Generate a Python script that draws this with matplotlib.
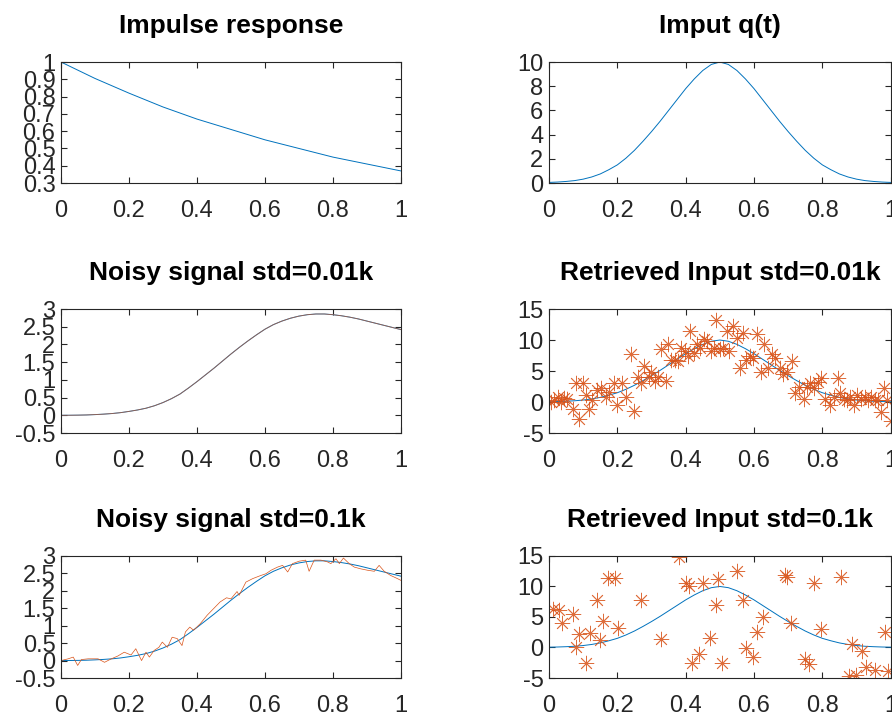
import numpy as np
import matplotlib
matplotlib.use("Agg")
import matplotlib.pyplot as plt

plt.rcParams['font.family'] = ['Liberation Sans', 'DejaVu Sans']

BLUE = (0.0, 0.447, 0.741)
ORANGE = (0.85, 0.325, 0.098)
AXC = (0.15, 0.15, 0.15)

# impulse response h(t)
t_h = [0, 0.1, 0.2, 0.3, 0.4, 0.5, 0.6, 0.7, 0.8, 0.9, 1.0]
h = [1.0, 0.905, 0.82, 0.74, 0.67, 0.61, 0.55, 0.5, 0.45, 0.41, 0.37]

# input q(t) and clean output signal, step 0.025
t_q = [0, 0.025, 0.05, 0.075, 0.1, 0.125, 0.15, 0.175, 0.2, 0.225, 0.25,
       0.275, 0.3, 0.325, 0.35, 0.375, 0.4, 0.425, 0.45, 0.475, 0.5,
       0.525, 0.55, 0.575, 0.6, 0.625, 0.65, 0.675, 0.7, 0.725, 0.75,
       0.775, 0.8, 0.825, 0.85, 0.875, 0.9, 0.925, 0.95, 0.975, 1.0]
q = [0.05, 0.08, 0.13, 0.2, 0.32, 0.5, 0.75, 1.1, 1.5, 2.05, 2.7,
     3.45, 4.25, 5.1, 6.0, 6.9, 7.8, 8.6, 9.3, 9.8, 10.0,
     9.8, 9.3, 8.6, 7.8, 6.9, 6.0, 5.1, 4.25, 3.45, 2.7,
     2.05, 1.5, 1.1, 0.75, 0.5, 0.32, 0.2, 0.13, 0.08, 0.05]
sig = [0.0, 0.002, 0.005, 0.01, 0.02, 0.033, 0.05, 0.075, 0.11, 0.15, 0.2,
       0.27, 0.36, 0.47, 0.6, 0.77, 0.95, 1.14, 1.33, 1.53, 1.73,
       1.92, 2.1, 2.27, 2.43, 2.56, 2.66, 2.74, 2.8, 2.84, 2.86,
       2.86, 2.84, 2.81, 2.77, 2.72, 2.66, 2.6, 2.54, 2.48, 2.42]

# noisy signal, std = 0.1k
t_n2 = [0, 0.021, 0.036, 0.049, 0.06, 0.08, 0.109, 0.128, 0.148, 0.167, 0.186,
        0.206, 0.22, 0.237, 0.25, 0.26, 0.274, 0.288, 0.298, 0.313, 0.327,
        0.342, 0.356, 0.366, 0.379, 0.39, 0.41, 0.43, 0.449, 0.468, 0.487,
        0.50, 0.518, 0.524, 0.544, 0.564, 0.588, 0.603, 0.618, 0.637, 0.652,
        0.667, 0.681, 0.701, 0.72, 0.73, 0.745, 0.765, 0.784, 0.794, 0.809,
        0.819, 0.831, 0.848, 0.863, 0.882, 0.902, 0.922, 0.936, 0.951, 0.97,
        0.99, 1.0]
n2 = [0.0, 0.05, 0.10, -0.14, 0.03, 0.05, 0.05, -0.05, 0.05, 0.13, 0.24,
      0.16, 0.34, 0.0, 0.24, 0.10, 0.29, 0.38, 0.53, 0.38, 0.67,
      0.63, 0.43, 0.82, 0.96, 0.87, 1.06, 1.30, 1.49, 1.68, 1.80,
      1.77, 1.98, 1.87, 2.25, 2.35, 2.44, 2.49, 2.59, 2.68, 2.73,
      2.54, 2.78, 2.85, 2.88, 2.56, 2.88, 2.88, 2.83, 2.78, 2.92,
      2.78, 2.94, 2.78, 2.68, 2.63, 2.59, 2.56, 2.73, 2.56, 2.44,
      2.35, 2.30]

# retrieved input, std = 0.01k
t_r1 = [0.005, 0.015, 0.025, 0.034, 0.044, 0.054, 0.069, 0.08, 0.088, 0.10,
        0.108, 0.118, 0.127, 0.139, 0.152, 0.167, 0.176, 0.19, 0.20, 0.214,
        0.225, 0.24, 0.25, 0.26, 0.27, 0.279, 0.292, 0.299, 0.309, 0.319,
        0.328, 0.341, 0.348, 0.358, 0.368, 0.377, 0.387, 0.397, 0.407, 0.414,
        0.424, 0.433, 0.443, 0.453, 0.463, 0.473, 0.482, 0.49, 0.50, 0.51,
        0.52, 0.527, 0.539, 0.549, 0.559, 0.569, 0.578, 0.588, 0.598, 0.608,
        0.62, 0.629, 0.642, 0.652, 0.662, 0.676, 0.686, 0.698, 0.711, 0.72,
        0.733, 0.745, 0.755, 0.765, 0.775, 0.786, 0.796, 0.809, 0.822, 0.833,
        0.845, 0.853, 0.863, 0.873, 0.882, 0.892, 0.902, 0.914, 0.924, 0.933,
        0.943, 0.953, 0.963, 0.973, 0.98, 0.99, 1.0]
r1 = [0.0, 0.3, 0.8, 0.0, 0.7, 0.5, -1.1, 3.1, -2.7, 3.1,
      1.1, -1.1, 0.3, 1.9, 2.2, 0.8, 1.6, 3.1, -0.5, 3.0,
      0.8, 7.7, -1.4, 4.1, 3.0, 5.8, 4.1, 4.9, 3.4, 4.1,
      8.5, 3.4, 9.3, 6.8, 6.8, 6.6, 8.7, 8.2, 7.4, 11.5,
      7.9, 9.3, 8.7, 10.1, 9.8, 8.2, 8.7, 13.3, 8.6, 8.7,
      11.5, 8.3, 12.3, 10.4, 5.5, 11.2, 6.8, 7.4, 7.1, 10.9,
      4.8, 9.3, 5.5, 7.7, 7.1, 5.5, 4.6, 4.9, 6.6, 1.4,
      2.5, 0.5, 2.5, 3.0, 2.2, 3.3, 3.8, 0.5, -0.5, 0.8,
      3.8, 1.4, 0.5, 0.3, 0.8, -0.5, 1.1, 0.5, 0.8, 0.3,
      0.8, 0.4, 0.3, -1.6, 2.2, 0.3, -3.0]

# retrieved input, std = 0.1k (points inside the visible range)
t_r2 = [0.011, 0.029, 0.039, 0.07, 0.078, 0.089, 0.108, 0.119, 0.14, 0.148,
        0.158, 0.172, 0.192, 0.2015, 0.268, 0.328, 0.38, 0.40, 0.41, 0.419,
        0.44, 0.45, 0.47, 0.488, 0.495, 0.505, 0.549, 0.569, 0.578, 0.598,
        0.61, 0.627, 0.69, 0.698, 0.708, 0.75, 0.76, 0.776, 0.796, 0.856,
        0.878, 0.886, 0.90, 0.915, 0.927, 0.954, 0.983, 0.993]
r2 = [6.3, 6.1, 4.0, 5.5, 0.1, 2.2, -2.6, 2.3, 7.7, 1.2,
      4.4, 11.4, 11.4, 3.2, 7.8, 1.4, 14.9, 10.5, 10.0, -2.6,
      -1.1, 10.5, 1.5, 6.9, 11.3, -2.6, 12.6, 7.8, -0.1, -1.6,
      2.6, 5.0, 11.8, 11.5, 3.95, -1.9, -2.7, 10.5, 3.0, 11.5,
      -4.7, 0.5, -4.5, -0.55, -3.2, -3.7, 2.5, -3.85]

xticks = [0, 0.2, 0.4, 0.6, 0.8, 1.0]
xlabels = ["0", "0.2", "0.4", "0.6", "0.8", "1"]


def fmt(v):
    s = ("%.1f" % v).rstrip("0").rstrip(".")
    return "0" if s in ("-0", "") else s


def style(ax, title, yticks):
    ax.set_xlim(0, 1)
    ax.set_ylim(yticks[0], yticks[-1])
    ax.set_xticks(xticks)
    ax.set_xticklabels(xlabels)
    ax.set_yticks(yticks)
    ax.set_yticklabels([fmt(v) for v in yticks])
    ax.tick_params(direction="in", length=4, width=0.8, top=True, right=True,
                   labelsize=17, colors=AXC, labelcolor=AXC)
    ax.tick_params(axis="x", pad=12)
    ax.tick_params(axis="y", pad=4)
    for sp in ax.spines.values():
        sp.set_color(AXC)
        sp.set_linewidth(0.8)
    ax.set_title(title, fontsize=19, fontweight="bold", pad=21)


fig = plt.figure(figsize=(8.92, 7.18), dpi=100)

lefts = [0.0684, 0.6155]
widths = [0.381, 0.383]
bottoms = [0.7451, 0.3969, 0.0557]
heights = [0.1685, 0.1727, 0.170]

ax1 = fig.add_axes([lefts[0], bottoms[0], widths[0], heights[0]])
ax1.plot(t_h, h, color=BLUE, lw=0.7)
style(ax1, "Impulse response", [0.3, 0.4, 0.5, 0.6, 0.7, 0.8, 0.9, 1.0])

ax2 = fig.add_axes([lefts[1], bottoms[0], widths[1], heights[0]])
ax2.plot(t_q, q, color=BLUE, lw=0.7)
style(ax2, "Imput q(t)", [0, 2, 4, 6, 8, 10])

ax3 = fig.add_axes([lefts[0], bottoms[1], widths[0], heights[1]])
ax3.plot(t_q, sig, color=BLUE, lw=0.7)
# noise at 0.01k is too small to see: noisy trace lies on the clean one
ax3.plot(t_q, sig, color=ORANGE, lw=0.6, alpha=0.7)
style(ax3, "Noisy signal std=0.01k", [-0.5, 0, 0.5, 1, 1.5, 2, 2.5, 3])

ax4 = fig.add_axes([lefts[1], bottoms[1], widths[1], heights[1]])
ax4.plot(t_q, q, color=BLUE, lw=0.7)
ax4.plot(t_r1, r1, linestyle="none", marker=(8, 2, 0), markersize=11,
         markeredgewidth=0.6, color=ORANGE, alpha=0.85)
style(ax4, "Retrieved Input std=0.01k", [-5, 0, 5, 10, 15])

ax5 = fig.add_axes([lefts[0], bottoms[2], widths[0], heights[2]])
ax5.plot(t_q, sig, color=BLUE, lw=0.7)
ax5.plot(t_n2, n2, color=ORANGE, lw=0.5)
style(ax5, "Noisy signal std=0.1k", [-0.5, 0, 0.5, 1, 1.5, 2, 2.5, 3])

ax6 = fig.add_axes([lefts[1], bottoms[2], widths[1], heights[2]])
ax6.plot(t_q, q, color=BLUE, lw=0.7)
ax6.plot(t_r2, r2, linestyle="none", marker=(8, 2, 0), markersize=11,
         markeredgewidth=0.6, color=ORANGE, alpha=0.85)
style(ax6, "Retrieved Input std=0.1k", [-5, 0, 5, 10, 15])

fig.savefig("out.png", dpi=100)
